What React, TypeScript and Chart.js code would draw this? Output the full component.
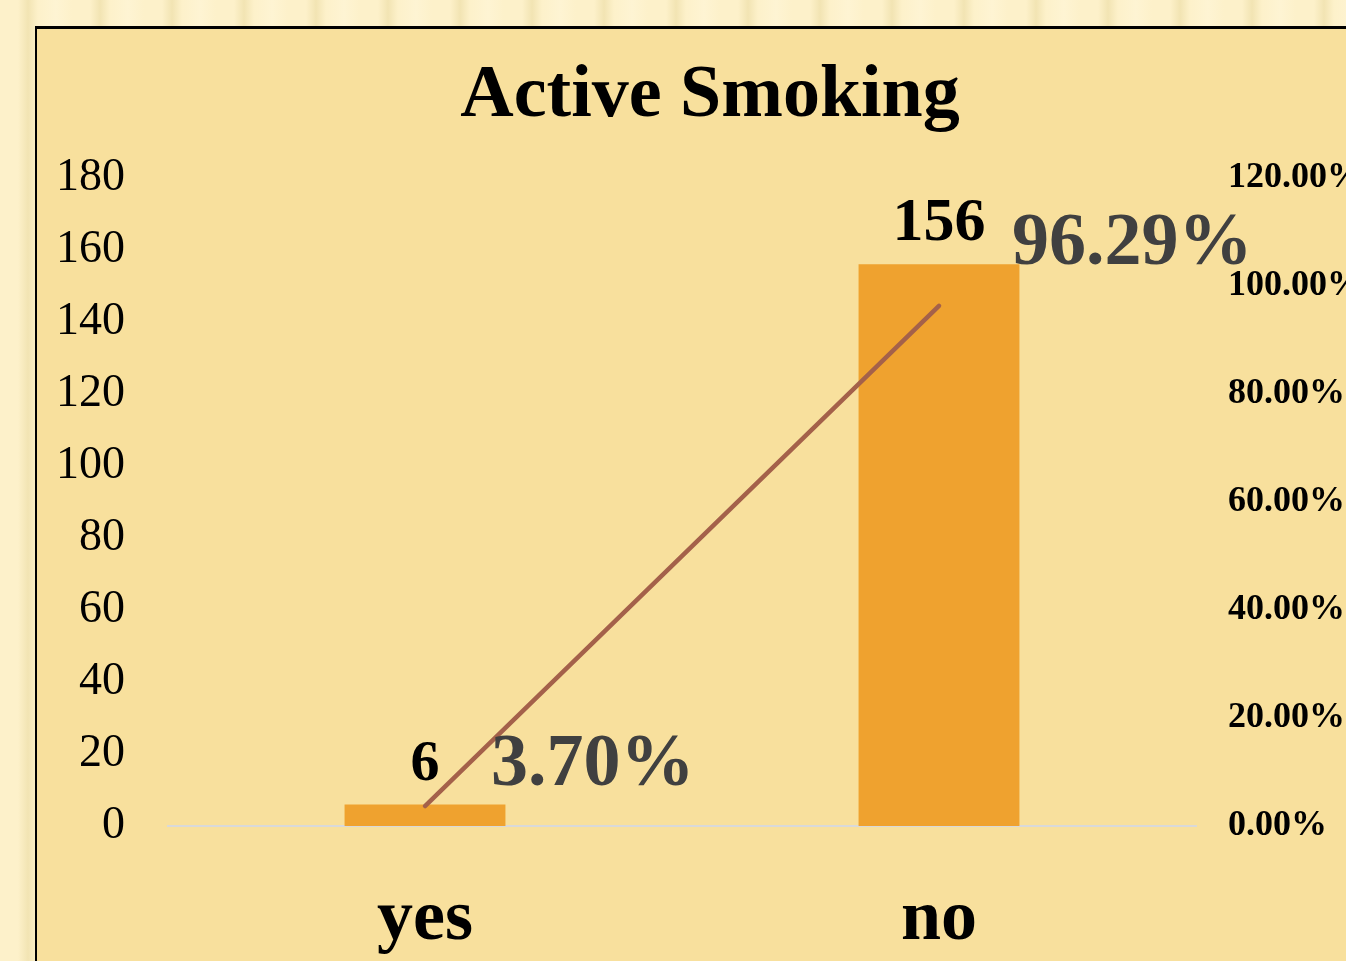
import React, { useEffect, useRef } from "react";
import { Chart, registerables } from "chart.js";

Chart.register(...registerables);

const categories = ["yes", "no"];
const counts = [6, 156];
const percents = [3.7, 96.29];
const percentLabels = ["3.70%", "96.29%"];
const leftTicks = [0, 20, 40, 60, 80, 100, 120, 140, 160, 180];
const rightTicks = [0, 20, 40, 60, 80, 100, 120];

const SERIF = '"Liberation Serif", "Times New Roman", serif';

const labelPlugin = {
  id: "valueLabels",
  afterDatasetsDraw(chart: any) {
    const ctx = chart.ctx;
    const lineMeta = chart.getDatasetMeta(0);
    const barMeta = chart.getDatasetMeta(1);
    ctx.save();
    ctx.fillStyle = "#000000";
    ctx.textAlign = "center";
    ctx.textBaseline = "alphabetic";
    barMeta.data.forEach((el: any, i: number) => {
      ctx.font = `bold ${i === 0 ? 58 : 62}px ${SERIF}`;
      ctx.fillText(String(counts[i]), el.x, el.y - 24);
    });
    const offs = [
      { dx: 66, dy: -21 },
      { dx: 73, dy: -42 },
    ];
    ctx.fillStyle = "#404040";
    ctx.textAlign = "left";
    lineMeta.data.forEach((el: any, i: number) => {
      ctx.font = `bold 74px ${SERIF}`;
      ctx.fillText(percentLabels[i], el.x + offs[i].dx, el.y + offs[i].dy);
    });
    ctx.restore();
  },
};

export default function App() {
  const ref = useRef<HTMLCanvasElement>(null);

  useEffect(() => {
    document.body.style.margin = "0";
    const chart = new Chart(ref.current as HTMLCanvasElement, {
      type: "bar",
      data: {
        labels: categories,
        datasets: [
          {
            type: "line",
            label: "Percent",
            data: percents,
            yAxisID: "y1",
            borderColor: "#A4614A",
            borderWidth: 4.5,
            borderCapStyle: "round",
            pointRadius: 0,
            fill: false,
            order: 0,
          } as any,
          {
            type: "bar",
            label: "Count",
            data: counts,
            yAxisID: "y",
            backgroundColor: "#EFA22F",
            categoryPercentage: 1,
            barPercentage: 0.313,
            order: 1,
          },
        ],
      },
      options: {
        responsive: false,
        animation: false,
        layout: { padding: 0 },
        plugins: {
          legend: { display: false },
          tooltip: { enabled: false },
          title: {
            display: true,
            text: "Active Smoking",
            color: "#000000",
            font: { family: SERIF, size: 74, weight: "bold", lineHeight: 1.2 },
            padding: { top: 23, bottom: 37 },
          },
        },
        scales: {
          x: {
            grid: { display: false, drawTicks: false },
            border: { display: true, color: "#D9D9D9", width: 2 },
            ticks: {
              color: "#000000",
              padding: 51,
              font: { family: SERIF, size: 72, weight: "bold", lineHeight: 1.2 },
            },
            afterFit: (s: any) => {
              s.height = 135;
            },
          },
          y: {
            position: "left",
            min: 0,
            max: 180,
            afterBuildTicks: (s: any) => {
              s.ticks = leftTicks.map((v) => ({ value: v }));
            },
            grid: { display: false, drawTicks: false },
            border: { display: false },
            ticks: {
              color: "#000000",
              padding: 43,
              font: { family: SERIF, size: 46, lineHeight: 1.2 },
            },
            afterFit: (s: any) => {
              s.width = 131;
            },
          },
          y1: {
            position: "right",
            min: 0,
            max: 120,
            afterBuildTicks: (s: any) => {
              s.ticks = rightTicks.map((v) => ({ value: v }));
            },
            grid: { display: false, drawTicks: false },
            border: { display: false },
            ticks: {
              color: "#000000",
              padding: 32,
              font: { family: SERIF, size: 36, weight: "bold", lineHeight: 1.2 },
              callback: (v: any) => Number(v).toFixed(2) + "%",
            },
            afterFit: (s: any) => {
              s.width = 187;
            },
          },
        },
      },
      plugins: [labelPlugin],
    });
    return () => chart.destroy();
  }, []);

  return (
    <div
      style={{
        position: "fixed",
        left: 0,
        top: 0,
        width: 1346,
        height: 961,
        overflow: "hidden",
        background:
          "repeating-linear-gradient(90deg, #fdf1ca 0px, #fdf1ca 18px, #f2e4b3 28px, #fdf1ca 38px, #fef4d3 56px, #fdf1ca 72px)",
      }}
    >
      <div
        style={{
          position: "absolute",
          left: 35,
          top: 26,
          width: 1400,
          height: 1000,
          borderLeft: "2px solid #000",
          borderTop: "3px solid #000",
          background: "#F8E09D",
        }}
      >
        <canvas
          ref={ref}
          width={1346}
          height={932}
          style={{ display: "block", width: 1346, height: 932 }}
        />
      </div>
    </div>
  );
}
